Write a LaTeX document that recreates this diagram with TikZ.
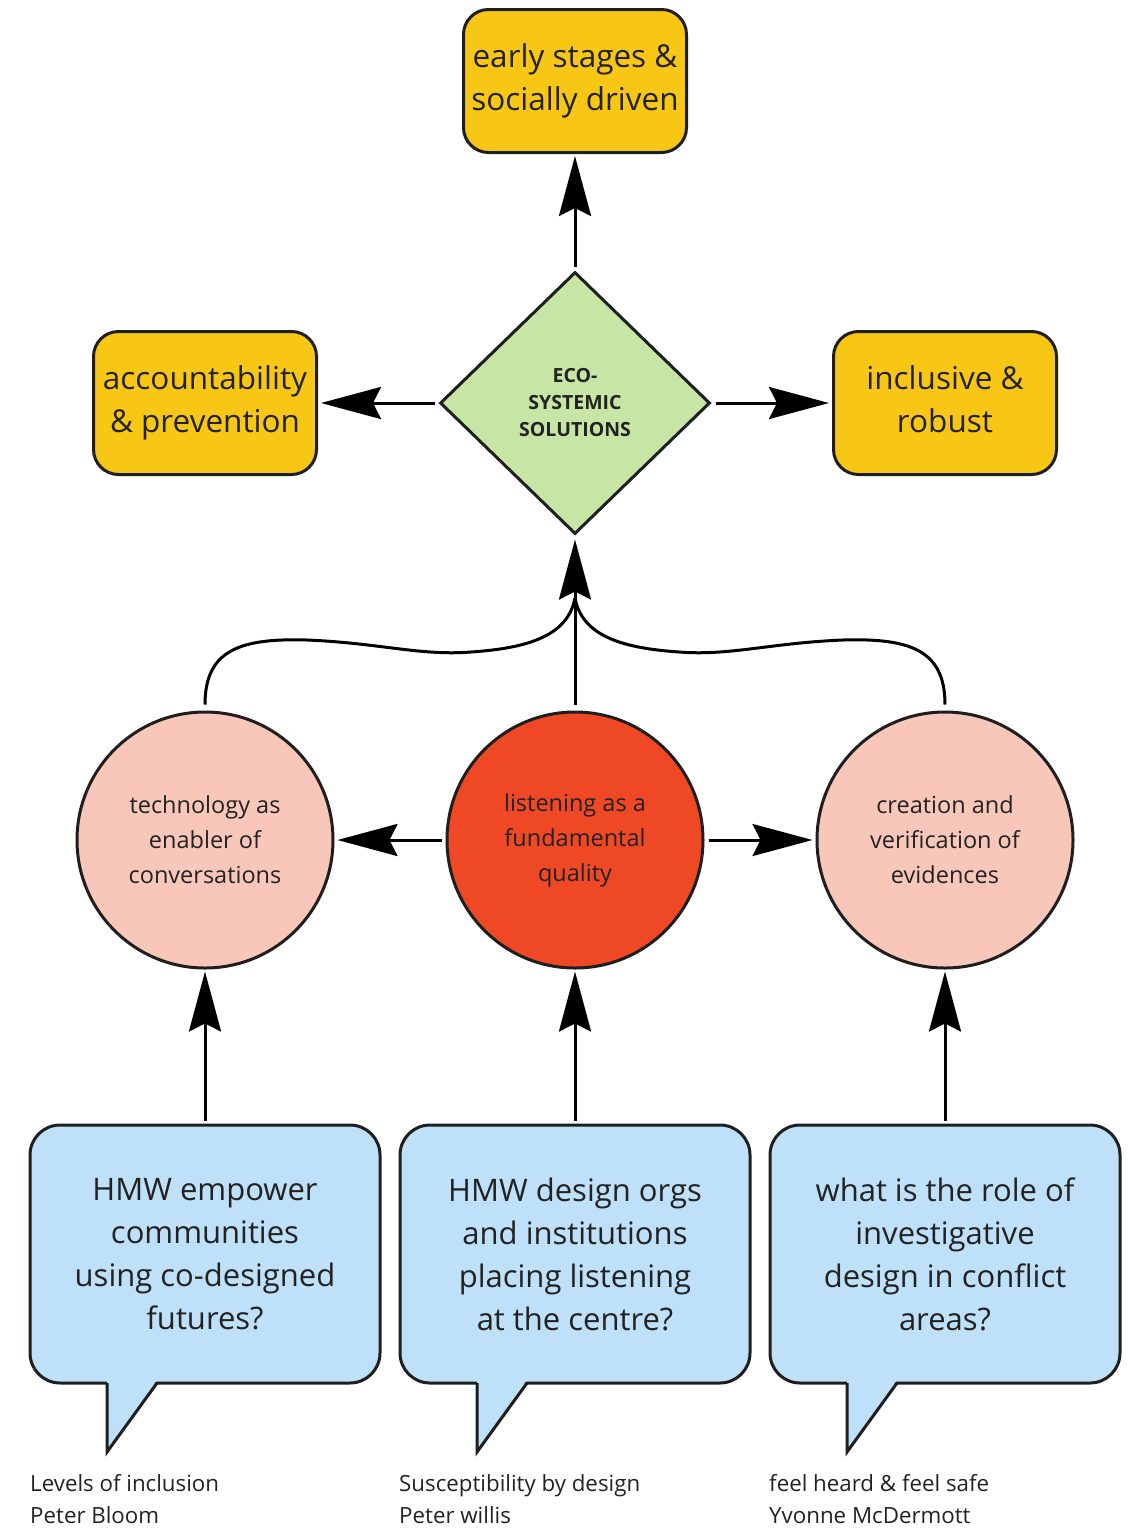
\documentclass[tikz,border=0pt]{standalone}
\usepackage{fontspec}
\setmainfont{Open Sans}
\usetikzlibrary{arrows.meta,positioning,shapes.geometric}

\definecolor{linegray}{HTML}{1E1E1E}
\definecolor{textgray}{HTML}{222222}
\definecolor{goalyellow}{HTML}{F8C614}
\definecolor{coregreen}{HTML}{C7E6A6}
\definecolor{keyred}{HTML}{EF4824}
\definecolor{themepink}{HTML}{F9C6BA}
\definecolor{askblue}{HTML}{BEE0F8}

\begin{document}
\begin{tikzpicture}[x=1pt,y=-1pt,>={Stealth[length=60pt,width=32pt,inset=8pt]},
  outline/.style={draw=linegray,line width=3pt},
  link/.style={draw=black,line width=3pt},
  goal/.style={outline,fill=goalyellow,rounded corners=25pt,minimum width=223pt,
    minimum height=143pt,align=center,text=textgray,font=\fontsize{31.5}{43}\selectfont},
  core/.style={outline,fill=coregreen,diamond,minimum width=270pt,minimum height=262pt,
    inner sep=0pt,align=center,text=textgray,font=\fontsize{19.5}{27}\selectfont\bfseries},
  theme/.style={outline,circle,minimum size=256pt,inner sep=0pt,align=center,
    text=textgray,font=\fontsize{23.5}{35}\selectfont},
  ask/.style={outline,fill=askblue,rounded corners=30pt,minimum width=350pt,
    minimum height=258pt,align=center,text=textgray,font=\fontsize{31}{43}\selectfont},
  source/.style={anchor=north west,inner sep=0pt,align=left,text=textgray,
    font=\fontsize{22.3}{32}\selectfont}]
  \useasboundingbox (0,0) rectangle (1129,1532);

  % outcomes
  \node[goal] (early) at (575,81) {early stages \&\\socially driven};
  \node[goal] (account) at (205,403) {accountability\\\& prevention};
  \node[goal] (inclusive) at (945,403) {inclusive \&\\robust\vphantom{p}};

  \node[core] (eco) at (575,403) {ECO-\\SYSTEMIC\\SOLUTIONS};

  \draw[link,->,shorten <=4pt,shorten >=2pt] (eco.north) -- (early.south);
  \draw[link,->,shorten <=4pt,shorten >=3pt] (eco.west) -- (account.east);
  \draw[link,->,shorten <=4pt,shorten >=3pt] (eco.east) -- (inclusive.west);

  % themes
  \node[theme,fill=themepink] (tech) at (205,840) {technology as\\enabler of\\conversations};
  \node[theme,fill=keyred] (listen) at (575,840) {listening as a\\fundamental\\quality};
  \node[theme,fill=themepink] (evid) at (945,840) {creation and\\verification of\\evidences};

  \draw[link,->,shorten <=4pt,shorten >=3pt] (listen.west) -- (tech.east);
  \draw[link,->,shorten <=4pt,shorten >=3pt] (listen.east) -- (evid.west);

  \coordinate (join) at (575,598);
  \draw[link] ([yshift=6pt]tech.north) .. controls (205,650) and (240,638) .. (307,640)
    .. controls (380,643) and (420,656) .. (471,652)
    .. controls (530,648) and (568,635) .. (join);
  \draw[link] ([yshift=6pt]evid.north) .. controls (945,650) and (910,638) .. (843,640)
    .. controls (770,643) and (730,656) .. (679,652)
    .. controls (620,648) and (582,635) .. (join);
  \draw[link,->,shorten <=6pt,shorten >=4pt] (listen.north) -- (eco.south);

  % questions
  \node[ask] (askA) at (205,1254) {HMW empower\\communities\\using co-designed\\futures?};
  \node[ask] (askB) at (575,1254) {HMW design orgs\\and institutions\\placing listening\\at the centre?};
  \node[ask] (askC) at (945,1254) {what is the role of\\investigative\\design in conflict\\areas?};

  \fill[askblue] (107,1380) -- (107,1452) -- (157,1380) -- cycle;
  \draw[outline] (107,1383) -- (107,1452) -- (157,1383);
  \fill[askblue] (477,1380) -- (477,1452) -- (527,1380) -- cycle;
  \draw[outline] (477,1383) -- (477,1452) -- (527,1383);
  \fill[askblue] (847,1380) -- (847,1452) -- (897,1380) -- cycle;
  \draw[outline] (847,1383) -- (847,1452) -- (897,1383);

  \draw[link,->,shorten <=3pt,shorten >=2pt] (askA.north) -- (tech.south);
  \draw[link,->,shorten <=3pt,shorten >=2pt] (askB.north) -- (listen.south);
  \draw[link,->,shorten <=3pt,shorten >=2pt] (askC.north) -- (evid.south);

  \node[source] (srcA) at (30,1474) {Levels of inclusion\\Peter Bloom};
  \node[source] (srcB) at (399,1474) {Susceptibility by design\\Peter willis};
  \node[source] (srcC) at (769,1474) {feel heard \& feel safe\\Yvonne McDermott};
\end{tikzpicture}
\end{document}
